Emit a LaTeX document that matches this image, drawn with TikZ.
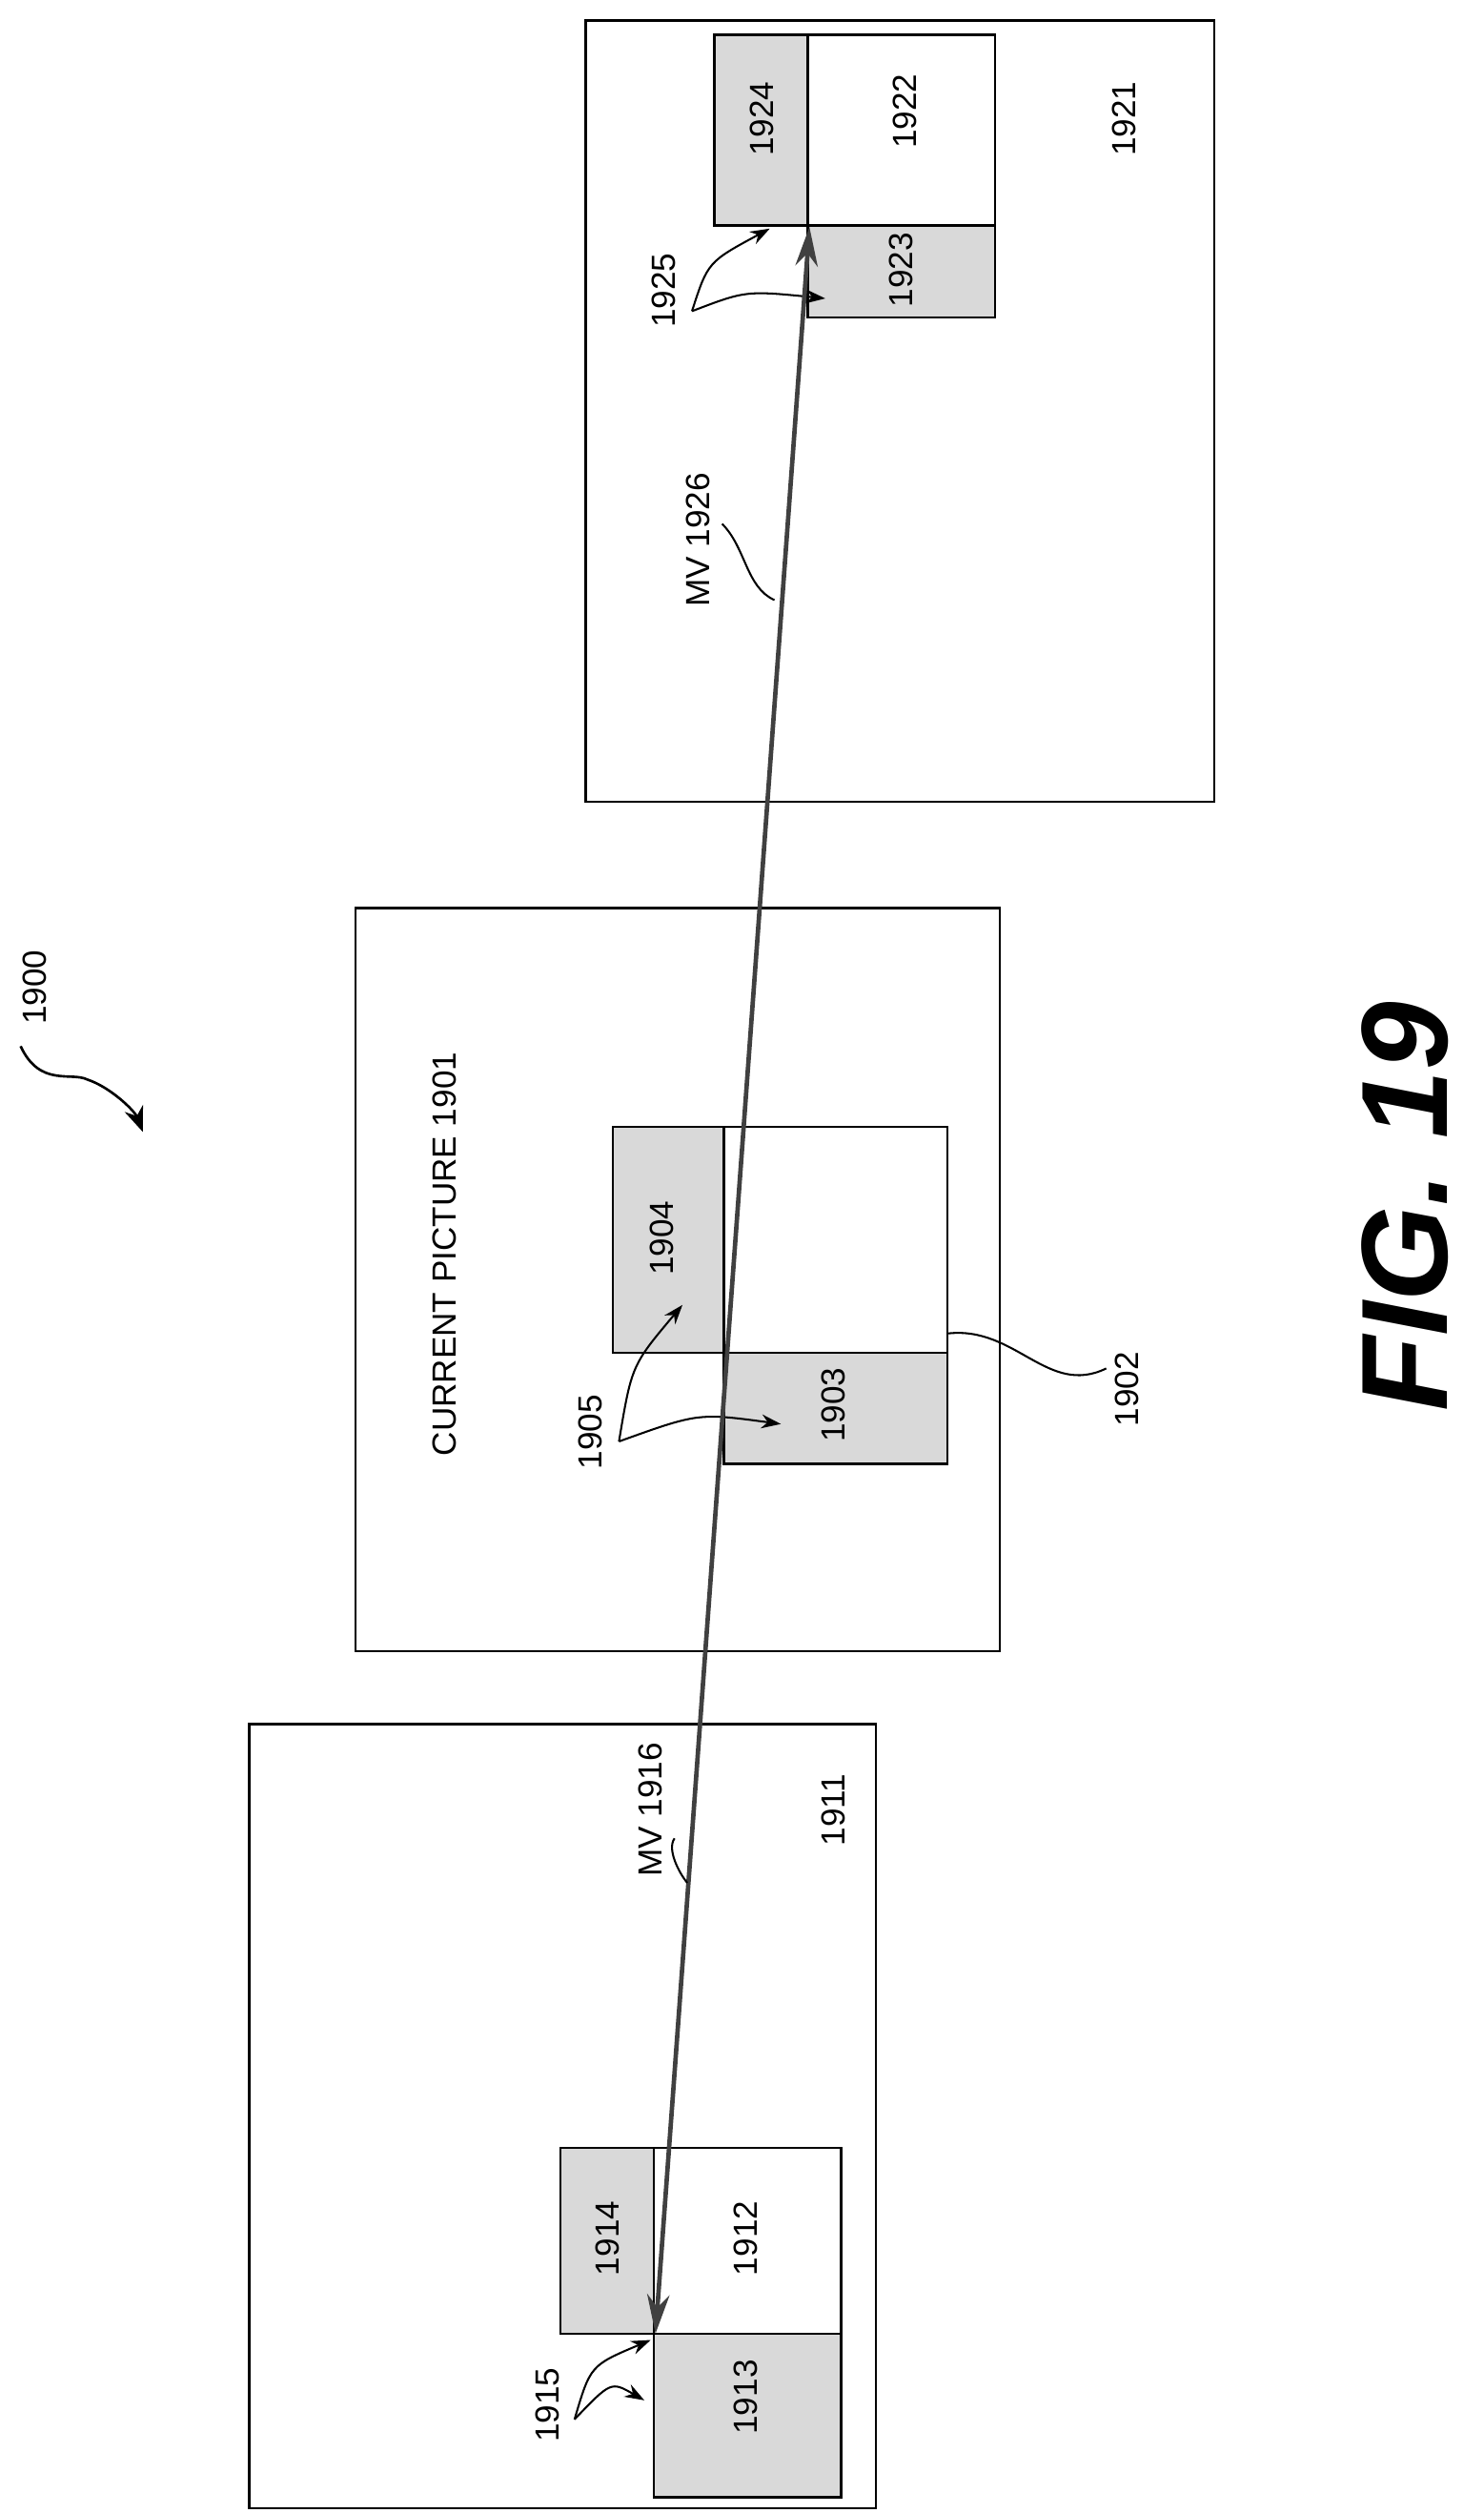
\documentclass[tikz,border=0pt]{standalone}
\usepackage{fontspec}
\setmainfont{Liberation Sans}
\usetikzlibrary{arrows.meta}
\begin{document}
\begin{tikzpicture}[x=0.02cm,y=-0.02cm,
  box/.style={draw,line width=0.8pt},
  gbox/.style={draw,line width=0.8pt,fill=gray!30},
  lab/.style={rotate=90,font=\fontsize{12}{14}\selectfont},
  lead/.style={line width=0.7pt,-{Stealth[length=7pt,width=5pt]}},
  mv/.style={line width=1.6pt,draw=black!75,{Stealth[length=14pt,width=8pt]}-{Stealth[length=14pt,width=8pt]}}]
\useasboundingbox (0,0) rectangle (935,1583);
% picture 1921
\draw[box] (369,13) rectangle (765,505);
\draw[box] (509,22) rectangle (627,142);
\draw[gbox] (450,22) rectangle (509,142);
\draw[gbox] (509,142) rectangle (627,200);
\node[lab] (l1921) at (708,75) {1921};
\node[lab] (l1922) at (570,70) {1922};
\node[lab] (l1924) at (480,75) {1924};
\node[lab] (l1923) at (568,170) {1923};
\node[lab] (l1925) at (418,183) {1925};
\coordinate (c1924) at (485,144);
\coordinate (c1923) at (520,188);
\draw[lead] (436,196) .. controls (446,165) .. (c1924);
\draw[lead] (436,196) .. controls (470,183) .. (c1923);
\node[lab] (l1926) at (440,340) {MV 1926};
% current picture
\draw[box] (224,572) rectangle (630,1040);
\draw[box] (456,710) rectangle (597,852);
\draw[gbox] (386,710) rectangle (456,852);
\draw[gbox] (456,852) rectangle (597,922);
\node[lab] (l1901) at (280,790) {CURRENT PICTURE 1901};
\node[lab] (l1904) at (417,780) {1904};
\node[lab] (l1903) at (525,885) {1903};
\node[lab] (l1905) at (372,902) {1905};
\node[lab] (l1902) at (710,875) {1902};
\coordinate (c1904) at (430,822);
\coordinate (c1903) at (492,897);
\draw[lead] (390,908) .. controls (398,860) .. (c1904);
\draw[lead] (390,908) .. controls (440,890) .. (c1903);
\draw[line width=0.7pt] (597,840) .. controls (640,835) and (660,880) .. (697,862);
% picture 1911
\draw[box] (157,1086) rectangle (552,1580);
\draw[box] (412,1353) rectangle (530,1470);
\draw[gbox] (353,1353) rectangle (412,1470);
\draw[gbox] (412,1470) rectangle (530,1573);
\node[lab] (l1911) at (525,1140) {1911};
\node[lab] (l1916) at (410,1140) {MV 1916};
\node[lab] (l1912) at (470,1410) {1912};
\node[lab] (l1914) at (383,1410) {1914};
\node[lab] (l1913) at (470,1510) {1913};
\node[lab] (l1915) at (345,1515) {1915};
\coordinate (c1914) at (410,1474);
\coordinate (c1913) at (406,1512);
\draw[lead] (362,1524) .. controls (372,1490) .. (c1914);
\draw[lead] (362,1524) .. controls (385,1500) .. (c1913);
% motion vectors
\coordinate (tA) at (510,143);
\coordinate (tB) at (413,1470);
\draw[mv] (tA) -- (tB);
\draw[line width=0.7pt] (455,330) .. controls (470,345) and (470,370) .. (488,378);
\draw[line width=0.7pt] (425,1158) .. controls (420,1165) and (428,1180) .. (433,1186);
% 1900
\node[lab] (l1900) at (22,622) {1900};
\coordinate (c1900) at (90,713);
\draw[line width=0.9pt,-{Stealth[length=9pt,width=7pt]}] (13,659) .. controls (25,685) and (45,675) .. (55,680) .. controls (70,685) and (85,700) .. (c1900);
% fig
\node[rotate=90,font=\fontsize{44}{50}\selectfont\bfseries\itshape] (fig) at (885,760) {FIG. 19};
\end{tikzpicture}
\end{document}
